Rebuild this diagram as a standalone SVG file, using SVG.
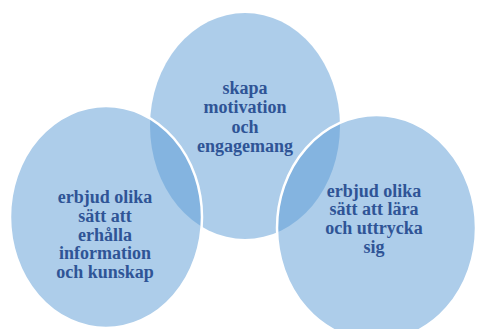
<svg xmlns="http://www.w3.org/2000/svg" width="477" height="329" viewBox="0 0 477 329">
<style>
.c{fill:#5B9BD5;fill-opacity:0.5}
.s{stroke:#FFFFFF;stroke-width:2.5}
.t{font-family:"Liberation Serif","Times New Roman",serif;font-weight:bold;font-size:18px;fill:#2F5496;text-anchor:middle}
</style>
<rect width="477" height="329" fill="#FFFFFF"/>
<g id="node-top">
<ellipse class="c" cx="245" cy="126" rx="95" ry="113"/>
</g>
<g id="node-left">
<ellipse class="c s" cx="106" cy="217" rx="96" ry="111"/>
</g>
<g id="node-right">
<ellipse class="c s" cx="376.5" cy="228" rx="99.5" ry="113"/>
</g>
<g id="connectors"></g>
<g id="labels">
<text class="t"><tspan x="245" y="94">skapa</tspan><tspan x="245" y="113.3">motivation</tspan><tspan x="245" y="132.6">och</tspan><tspan x="245" y="152">engagemang</tspan></text>
<text class="t"><tspan x="105" y="203">erbjud olika</tspan><tspan x="105" y="221.8">sätt att</tspan><tspan x="105" y="240.6">erhålla</tspan><tspan x="105" y="259.4">information</tspan><tspan x="105" y="278.2">och kunskap</tspan></text>
<text class="t"><tspan x="374" y="196.5">erbjud olika</tspan><tspan x="374" y="215.3">sätt att lära</tspan><tspan x="374" y="234.1">och uttrycka</tspan><tspan x="374" y="252.9">sig</tspan></text>
</g>
</svg>
